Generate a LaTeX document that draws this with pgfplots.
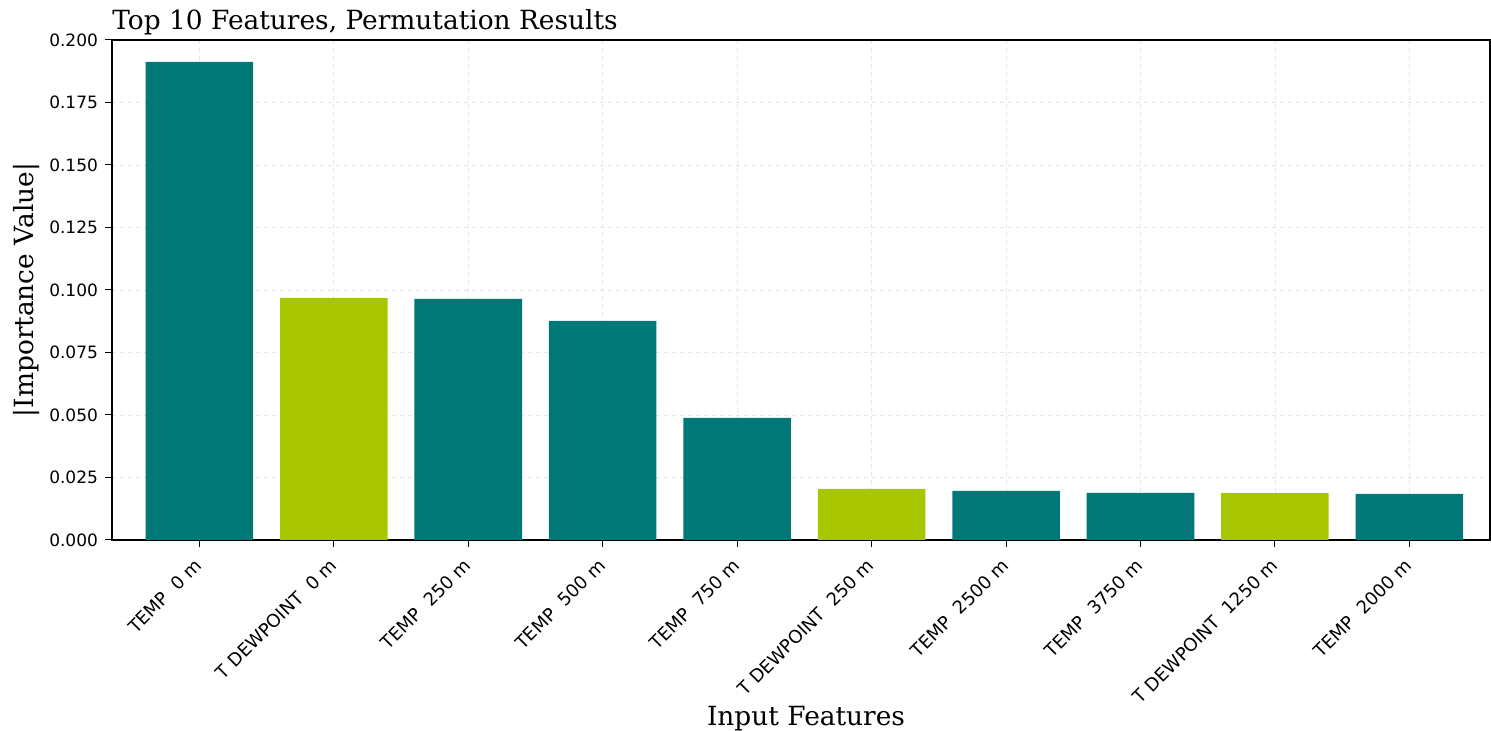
\documentclass[border=0pt]{standalone}
\usepackage{pgfplots}
\pgfplotsset{compat=1.18}
\usepackage{fontspec}
\setmainfont{DejaVu Serif}
\setsansfont{DejaVu Sans}

\definecolor{tempteal}{HTML}{007878}
\definecolor{dewgreen}{HTML}{A9C700}

\begin{document}
\begin{tikzpicture}
\useasboundingbox (-56pt,-95.5pt) rectangle (689.5pt,270pt);
\begin{axis}[
  at={(0,0)}, anchor=south west,
  scale only axis,
  width=689pt, height=250pt,
  xmin=-0.65, xmax=9.6,
  ymin=0, ymax=0.2,
  ytick={0,0.025,...,0.2},
  xtick={0,...,9},
  xticklabels={TEMP~~0 m, T DEWPOINT~~0 m, TEMP~~250 m, TEMP~~500 m, TEMP~~750 m,
    T DEWPOINT~~250 m, TEMP~~2500 m, TEMP~~3750 m, T DEWPOINT~~1250 m, TEMP~~2000 m},
  x tick label style={font=\sffamily\fontsize{9}{10}\selectfont, rotate=45, anchor=north east, inner sep=1.5pt, xshift=-4pt},
  y tick label style={font=\sffamily\fontsize{8.5}{10}\selectfont},
  yticklabel style={/pgf/number format/.cd, fixed, fixed zerofill, precision=3, assume math mode=true},
  scaled y ticks=false,
  tick align=outside, tick pos=left,
  major tick length=3.5pt,
  every tick/.style={black, line width=0.5pt},
  axis line style={black, line width=0.6pt},
  grid=major,
  major grid style={dash pattern=on 2pt off 2pt, gray!20, line width=0.4pt},
  title={Top 10 Features, Permutation Results},
  title style={at={(rel axis cs:0,1)}, anchor=base west, yshift=-1pt, inner sep=0pt, font=\fontsize{13.2}{15}\selectfont},
  ylabel={|Importance Value|},
  ylabel style={at={(rel axis cs:0,0.5)}, anchor=south, yshift=36pt, inner sep=0pt, font=\fontsize{13.2}{15}\selectfont},
  xlabel={Input Features},
  xlabel style={at={(rel axis cs:0.5,0)}, anchor=north, yshift=-83pt, xshift=2.5pt, inner sep=0pt, font=\fontsize{13.2}{15}\selectfont},
  ybar, bar width=0.8, bar shift=0pt,
]
\addplot[fill=tempteal, draw=none] coordinates {
  (0,0.1912) (2,0.0964) (3,0.0876) (4,0.0488) (6,0.0196) (7,0.0188) (9,0.0184)
};
\addplot[fill=dewgreen, draw=none] coordinates {
  (1,0.0968) (5,0.0204) (8,0.0188)
};
\end{axis}
\end{tikzpicture}
\end{document}
